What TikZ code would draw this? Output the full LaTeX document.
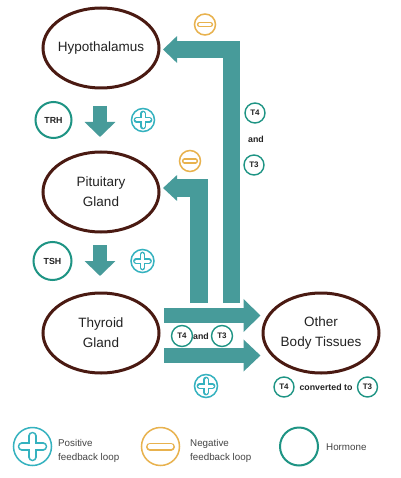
\documentclass[tikz,border=0pt]{standalone}
\usepackage{fontspec}
\setmainfont{Liberation Sans}
\usetikzlibrary{arrows.meta,shapes.geometric}
\definecolor{arrc}{HTML}{479B9A}
\definecolor{organc}{HTML}{4A1A12}
\definecolor{hormc}{HTML}{1E9484}
\definecolor{posc}{HTML}{35B2BF}
\definecolor{negc}{HTML}{E8B24E}
\definecolor{txtc}{HTML}{222222}
\definecolor{legc}{HTML}{444444}
\tikzset{
  organ/.style={ellipse, draw=organc, line width=3pt, minimum width=116pt, minimum height=80pt, inner sep=0pt},
  organtext/.style={align=center, inner sep=0pt, text=txtc, font=\fontsize{13.5}{20}\selectfont},
  horm/.style={circle, draw=hormc, line width=2pt, minimum size=36pt, inner sep=0pt,
    text=txtc, font=\fontsize{8.8}{10}\selectfont\bfseries},
  hsmall/.style={circle, draw=hormc, line width=1.4pt, minimum size=20pt, inner sep=0pt,
    text=txtc, font=\fontsize{8}{10}\selectfont\bfseries},
  lbl/.style={inner sep=0pt, text=txtc, font=\fontsize{8.8}{10}\selectfont\bfseries},
  poscirc/.style={circle, draw=posc, line width=1.5pt, minimum size=#1, inner sep=0pt},
  negcirc/.style={circle, draw=negc, line width=1.5pt, minimum size=#1, inner sep=0pt},
  legtext/.style={anchor=west, align=left, inner sep=0pt, text=legc, font=\fontsize{9.8}{14}\selectfont},
  fatarrow/.style={draw=arrc, line join=miter, line cap=butt},
}
\newcommand{\plussign}[4]{% node, half length, width, stroke
  \draw[posc, line width=#3, line cap=round] ([xshift=-#2]#1.center) -- ([xshift=#2]#1.center) ([yshift=-#2]#1.center) -- ([yshift=#2]#1.center);
  \draw[white, line width=#3-#4, line cap=round] ([xshift=-#2]#1.center) -- ([xshift=#2]#1.center) ([yshift=-#2]#1.center) -- ([yshift=#2]#1.center);
}
\newcommand{\minussign}[4]{%
  \draw[negc, line width=#3, line cap=round] ([xshift=-#2]#1.center) -- ([xshift=#2]#1.center);
  \draw[white, line width=#3-#4, line cap=round] ([xshift=-#2]#1.center) -- ([xshift=#2]#1.center);
}
\begin{document}
\begin{tikzpicture}[x=1pt,y=-1pt]
\useasboundingbox[fill=white] (0,0) rectangle (400,478);

% organs
\node[organ] (hypo) at (101,48) {};
\node[organtext] at (hypo.center) {Hypothalamus};
\node[organ] (pit) at (101,192) {};
\node[organtext] at (pit.center) {Pituitary\\Gland};
\node[organ] (thy) at (101,333) {};
\node[organtext] at (thy.center) {Thyroid\\Gland};
\node[organ] (body) at (321,333) {};
\node[organtext] at (body.center) {Other\\Body Tissues};

% coordinates for arrow ends
\coordinate (dA1) at (100,106); \coordinate (dA2) at (100,137);
\coordinate (dB1) at (100,245); \coordinate (dB2) at (100,276);
\coordinate (hA1) at (164,315.5); \coordinate (hA2) at (260.5,315.5);
\coordinate (hB1) at (164,355.5); \coordinate (hB2) at (260.5,355.5);
\coordinate (fA1) at (231.5,303); \coordinate (fA2) at (163,49.5);
\coordinate (fB1) at (199,303); \coordinate (fB2) at (163,188);

% thick arrows
\draw[fatarrow, line width=14pt, -{Triangle[length=15pt,width=30pt]}] (dA1) -- (dA2);
\draw[fatarrow, line width=14pt, -{Triangle[length=15pt,width=30pt]}] (dB1) -- (dB2);
\draw[fatarrow, line width=15pt, -{Triangle[length=17pt,width=32pt]}] (hA1) -- (hA2);
\draw[fatarrow, line width=15pt, -{Triangle[length=17pt,width=31pt]}] (hB1) -- (hB2);
\draw[fatarrow, line width=17pt, -{Triangle[length=14pt,width=26pt]}] (fA1) |- (fA2);
\draw[fatarrow, line width=17.5pt, -{Triangle[length=14pt,width=25pt]}] (fB1) |- (fB2);

% hormones
\node[horm] (trh) at (53.5,120) {TRH};
\node[horm, minimum size=38pt] (tsh) at (52.5,261) {TSH};

\node[hsmall] (t4a) at (255,113) {T4};
\node[lbl] (anda) at (256,139.5) {and};
\node[hsmall] (t3a) at (254,165) {T3};

\node[hsmall, minimum size=21pt] (t4b) at (182,336) {T4};
\node[lbl] (andb) at (201,336.5) {and};
\node[hsmall, minimum size=21pt] (t3b) at (222,336) {T3};

\node[hsmall] (t4c) at (284,387) {T4};
\node[lbl] (conv) at (326,387.5) {converted to};
\node[hsmall] (t3c) at (367.5,387) {T3};

% feedback signs
\node[poscirc=23pt] (p1) at (143,120) {};
\plussign{p1}{6.5pt}{5.8pt}{2.8pt}
\node[poscirc=23pt] (p2) at (142.5,261) {};
\plussign{p2}{6.5pt}{5.8pt}{2.8pt}
\node[poscirc=23pt] (p3) at (206,386) {};
\plussign{p3}{6.5pt}{5.8pt}{2.8pt}
\node[negcirc=21pt] (n1) at (205,24.5) {};
\minussign{n1}{5.5pt}{5.2pt}{2.8pt}
\node[negcirc=21pt] (n2) at (190,161) {};
\minussign{n2}{5.5pt}{5.2pt}{2.8pt}

% legend
\node[poscirc=38pt] (lp) at (32.5,446.5) {};
\plussign{lp}{10.5pt}{8.5pt}{3.2pt}
\node[legtext] (lpt) at (58,451) {Positive\\feedback loop};
\node[negcirc=38pt] (ln) at (160.5,446.5) {};
\minussign{ln}{10.5pt}{8pt}{3.4pt}
\node[legtext] (lnt) at (190,451) {Negative\\feedback loop};
\node[circle, draw=hormc, line width=2pt, minimum size=38pt, inner sep=0pt] (lh) at (299,446.5) {};
\node[legtext] (lht) at (326,447) {Hormone};
\end{tikzpicture}
\end{document}
